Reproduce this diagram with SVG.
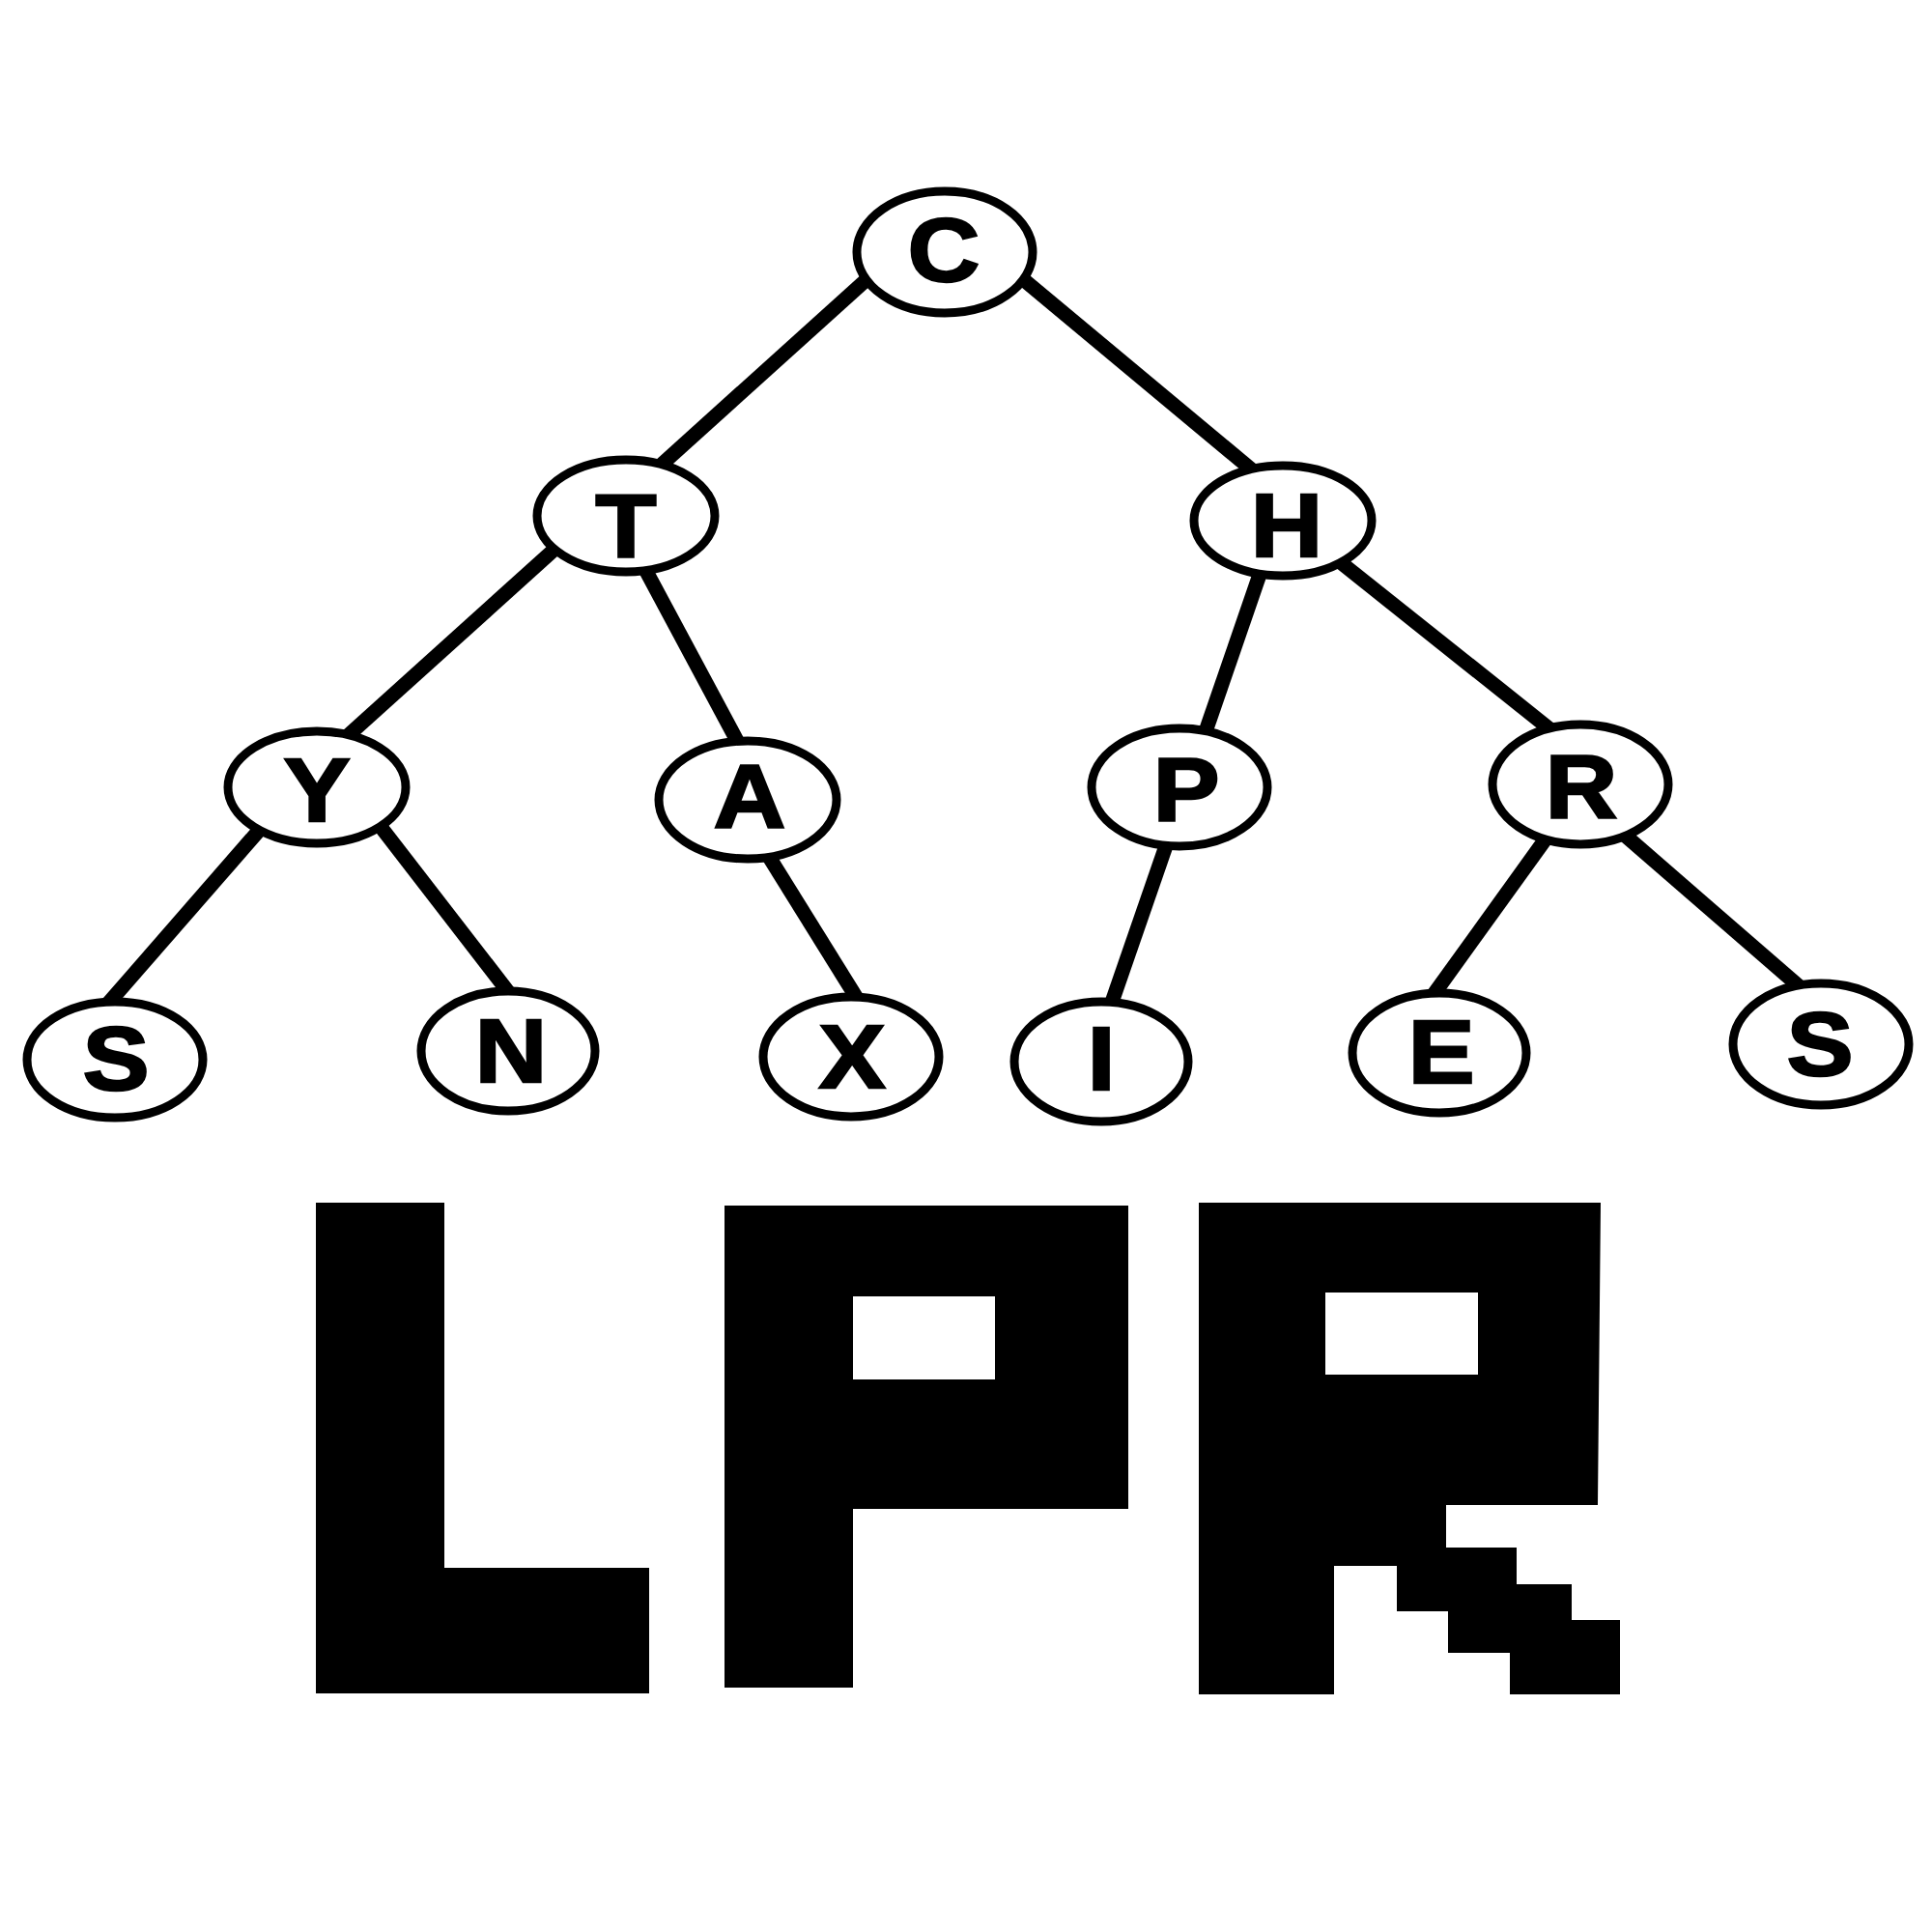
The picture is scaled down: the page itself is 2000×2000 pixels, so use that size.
<svg xmlns="http://www.w3.org/2000/svg" width="2000" height="2000" viewBox="0 0 2000 2000">
<style>
.edge{stroke:#000;stroke-width:15;stroke-linecap:butt;fill:none}
.node ellipse{fill:#fff;stroke:#000;stroke-width:9}
.node text{font-family:"Liberation Sans",Arial,sans-serif;font-weight:bold;font-size:92px;text-anchor:middle;fill:#000;stroke:#000;stroke-width:2.5;stroke-linejoin:miter}
.big{fill:#000;fill-rule:evenodd}
</style>
<rect width="2000" height="2000" fill="#fff"/>
<g id="connectors">
<line class="edge" x1="903" y1="284" x2="667" y2="497"/>
<line class="edge" x1="1047" y1="279" x2="1305" y2="494"/>
<line class="edge" x1="578" y1="565" x2="354" y2="767"/>
<line class="edge" x1="664" y1="582" x2="769" y2="778"/>
<line class="edge" x1="1307" y1="586" x2="1244" y2="769"/>
<line class="edge" x1="1380" y1="576" x2="1616" y2="764"/>
<line class="edge" x1="273" y1="854" x2="110" y2="1041"/>
<line class="edge" x1="388" y1="848" x2="534" y2="1037"/>
<line class="edge" x1="788" y1="874" x2="893" y2="1043"/>
<line class="edge" x1="1211" y1="864" x2="1146" y2="1052"/>
<line class="edge" x1="1609" y1="856" x2="1475" y2="1042"/>
<line class="edge" x1="1671" y1="855" x2="1875" y2="1032"/>
</g>
<g id="node-C" class="node"><ellipse cx="978" cy="261" rx="91" ry="63"/><text transform="translate(977,291) scale(1.12,1)">C</text></g>
<g id="node-T" class="node"><ellipse cx="648" cy="534" rx="92" ry="58"/><text transform="translate(648,577) scale(1.12,1)">T</text></g>
<g id="node-H" class="node"><ellipse cx="1328" cy="539" rx="92" ry="57"/><text transform="translate(1332,576) scale(1.12,1)">H</text></g>
<g id="node-Y" class="node"><ellipse cx="328" cy="815" rx="92" ry="58"/><text transform="translate(328,850) scale(1.12,1)">Y</text></g>
<g id="node-A" class="node"><ellipse cx="774" cy="828" rx="92" ry="61"/><text transform="translate(776,856) scale(1.12,1)">A</text></g>
<g id="node-P" class="node"><ellipse cx="1221" cy="815" rx="91" ry="61"/><text transform="translate(1228,850) scale(1.12,1)">P</text></g>
<g id="node-R" class="node"><ellipse cx="1636" cy="812" rx="91" ry="62"/><text transform="translate(1637,846) scale(1.12,1)">R</text></g>
<g id="node-S1" class="node"><ellipse cx="119" cy="1097" rx="91" ry="60"/><text transform="translate(120,1128) scale(1.12,1)">S</text></g>
<g id="node-N" class="node"><ellipse cx="526" cy="1088" rx="90" ry="62"/><text transform="translate(529,1120) scale(1.12,1)">N</text></g>
<g id="node-X" class="node"><ellipse cx="881" cy="1094" rx="91" ry="62"/><text transform="translate(882,1126) scale(1.12,1)">X</text></g>
<g id="node-I" class="node"><ellipse cx="1140" cy="1099" rx="90" ry="62"/><text transform="translate(1140,1128) scale(1.12,1)">I</text></g>
<g id="node-E" class="node"><ellipse cx="1490" cy="1090" rx="90" ry="62"/><text transform="translate(1492,1121) scale(1.12,1)">E</text></g>
<g id="node-S2" class="node"><ellipse cx="1885" cy="1081" rx="91" ry="63"/><text transform="translate(1884,1113) scale(1.12,1)">S</text></g>
<g id="LPR">
<path class="big" d="M327,1245 H460 V1623 H672 V1753 H327 Z"/>
<path class="big" d="M750,1248 H1168 V1562 H883 V1747 H750 Z M883,1342 H1030 V1428 H883 Z"/>
<path class="big" d="M1241,1245 H1657 L1654,1558 H1497 V1602 H1570 V1640 H1627 V1677 H1677 V1754 H1563 V1711 H1499 V1668 H1446 V1621 H1381 V1754 H1241 Z M1372,1338 H1530 V1423 H1372 Z"/>
</g>
</svg>
